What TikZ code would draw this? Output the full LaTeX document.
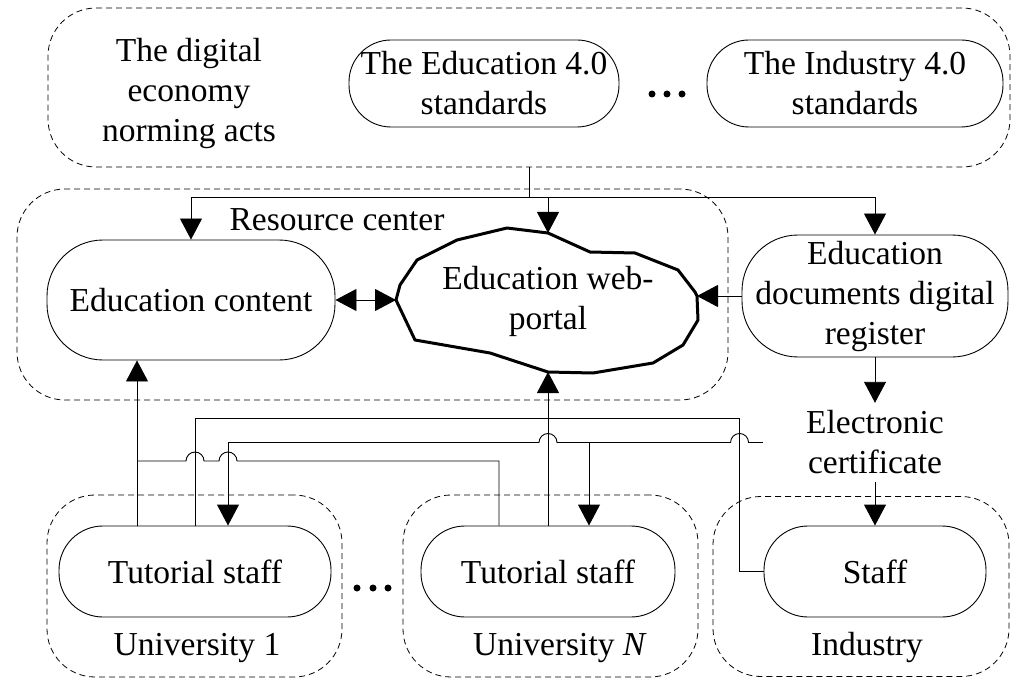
\documentclass[tikz,border=0pt]{standalone}
\usepackage{fontspec}
\setmainfont{Liberation Serif}
\usetikzlibrary{arrows.meta,calc}
\tikzset{
  every node/.append style={font=\fontsize{33.5}{40}\selectfont},
  stadium/.style={draw, line width=0.9pt, align=center, inner sep=2pt},
  group/.style={draw, dash pattern=on 6pt off 4pt, line width=0.8pt, rounded corners=48pt},
  wire/.style={line width=0.9pt},
  arr/.style={wire, -{Triangle[width=22pt,length=21pt]}},
  darr/.style={wire, {Triangle[width=22pt,length=21pt]}-{Triangle[width=22pt,length=21pt]}}
}
\begin{document}
\begin{tikzpicture}[x=1pt,y=-1pt]
        \useasboundingbox (0,0) rectangle (1012,679);
        \pgfmathsetmacro{\hop}{9} %radius of the wire jumps
        %dashed groups
        \node[group, minimum width=962pt, minimum height=159pt] (norms) at (529,87.5) {};
        \node[group, minimum width=711pt, minimum height=211pt] (resource) at (372.5,294.5) {};
        \node[group, minimum width=295pt, minimum height=182pt] (uni1) at (194.5,586) {};
        \node[group, minimum width=295pt, minimum height=182pt] (uniN) at (550.5,586) {};
        \node[group, minimum width=296pt, minimum height=180pt] (industry) at (861,586.5) {};
        
        \node[align=center] (norming) at (189,93) {The digital\\economy\\norming acts};
        \node[stadium, minimum width=270pt, minimum height=87pt, rounded corners=42pt] (edu40) at (484,83.5) {The Education 4.0\\standards};
        \node[stadium, minimum width=296pt, minimum height=87pt, rounded corners=42pt] (ind40) at (855,83.5) {The Industry 4.0\\standards};
        
        \node (rclabel) at (337,220) {Resource center};
        \node[stadium, minimum width=288pt, minimum height=120pt, rounded corners=56pt] (content) at (191,300) {Education content};
        \node[stadium, minimum width=266pt, minimum height=122pt, rounded corners=56pt] (docs) at (875,296) {Education\\documents digital\\register};
        \node[align=center, minimum width=224pt, minimum height=79pt] (cert) at (875,442.5) {Electronic\\certificate};
        
        %the web-portal cloud
        \draw[line width=3pt, line join=round] (396,300) -- (400,285) -- (417,260) -- (457,240) -- (507,228)
        -- (548,233) -- (590,252) -- (635,253) -- (678,270) -- (695,292) -- (697,296) -- (698,320) -- (683,345)
        -- (653,363) -- (593,373) -- (548,372) -- (490,353) -- (415,340) -- cycle;
        \coordinate (portal-n) at (548,233);
        \coordinate (portal-s) at (548,372);
        \coordinate (portal-w) at (396,300);
        \coordinate (portal-e) at (697,296);
        \node[align=center] (portal) at (548,301) {Education web-\\portal};
        
        \node[stadium, minimum width=272pt, minimum height=91pt, rounded corners=44pt] (tut1) at (195,571.5) {Tutorial staff};
        \node[stadium, minimum width=254pt, minimum height=91pt, rounded corners=44pt] (tutN) at (548,571.5) {Tutorial staff};
        \node[stadium, minimum width=222pt, minimum height=91pt, rounded corners=44pt] (staff) at (875,571.5) {Staff};
        \node (uni1label) at (197,648) {University 1};
        \node (uniNlabel) at (560,648) {University \textit{N}};
        \node (indlabel) at (867,647) {Industry};
        
        \foreach \x in {652,667,682} {\fill (\x,94) circle (3.5pt);}
        \foreach \x in {357,373,388} {\fill (\x,588) circle (3.5pt);}
        
        %standards to the resource center and the register
        \draw[wire] (norms.south) -- ++(0,30) coordinate (split);
        \draw[arr] (split) -| (content.north);
        \draw[arr] (split) -| (portal-n);
        \draw[arr] (split) -| (docs.north);
        \draw[darr] (content.east) -- (portal-w);
        \draw[arr] (docs.west) -- (portal-e);
        \draw[arr] (docs.south) -- (cert.north);
        \draw[arr] (cert.south) -- (staff.north);
        
        %bottom wiring
        \coordinate (t1a) at ($(tut1.north)+(-58,0)$);
        \coordinate (t1c) at ($(tut1.north)+(33,0)$);
        \coordinate (tNa) at ($(tutN.north)+(-49,0)$);
        \coordinate (tNc) at ($(tutN.north)+(41,0)$);
        \coordinate (sx) at ($(staff.west)+(-24,0)$);
        \coordinate (busA) at (0,418);
        \coordinate (busC) at (0,461);
        \draw[arr] (t1a) -- (t1a |- content.south);
        \draw[arr] (tutN.north) -- (portal-s);
        \draw[wire] (tut1.north) |- (tutN.north |- busA);
        \draw[wire] (staff.west) -- (sx) |- (tutN.north |- busA);
        \draw[wire] (tNa) |- ($(t1c |- busC)+(\hop,0)$) arc[start angle=0,end angle=180,radius=\hop pt]
        -- ($(tut1.north |- busC)+(\hop,0)$) arc[start angle=0,end angle=180,radius=\hop pt] -- (t1a |- busC);
        \draw[wire] (cert.west) -- ($(sx |- cert.west)+(\hop,0)$) arc[start angle=0,end angle=180,radius=\hop pt]
        -- ($(tutN.north |- cert.west)+(\hop,0)$) arc[start angle=0,end angle=180,radius=\hop pt] -- (t1c |- cert.west);
        \draw[arr] (t1c |- cert.west) -- (t1c);
        \draw[arr] (tNc |- cert.west) -- (tNc);
\end{tikzpicture}
\end{document}
